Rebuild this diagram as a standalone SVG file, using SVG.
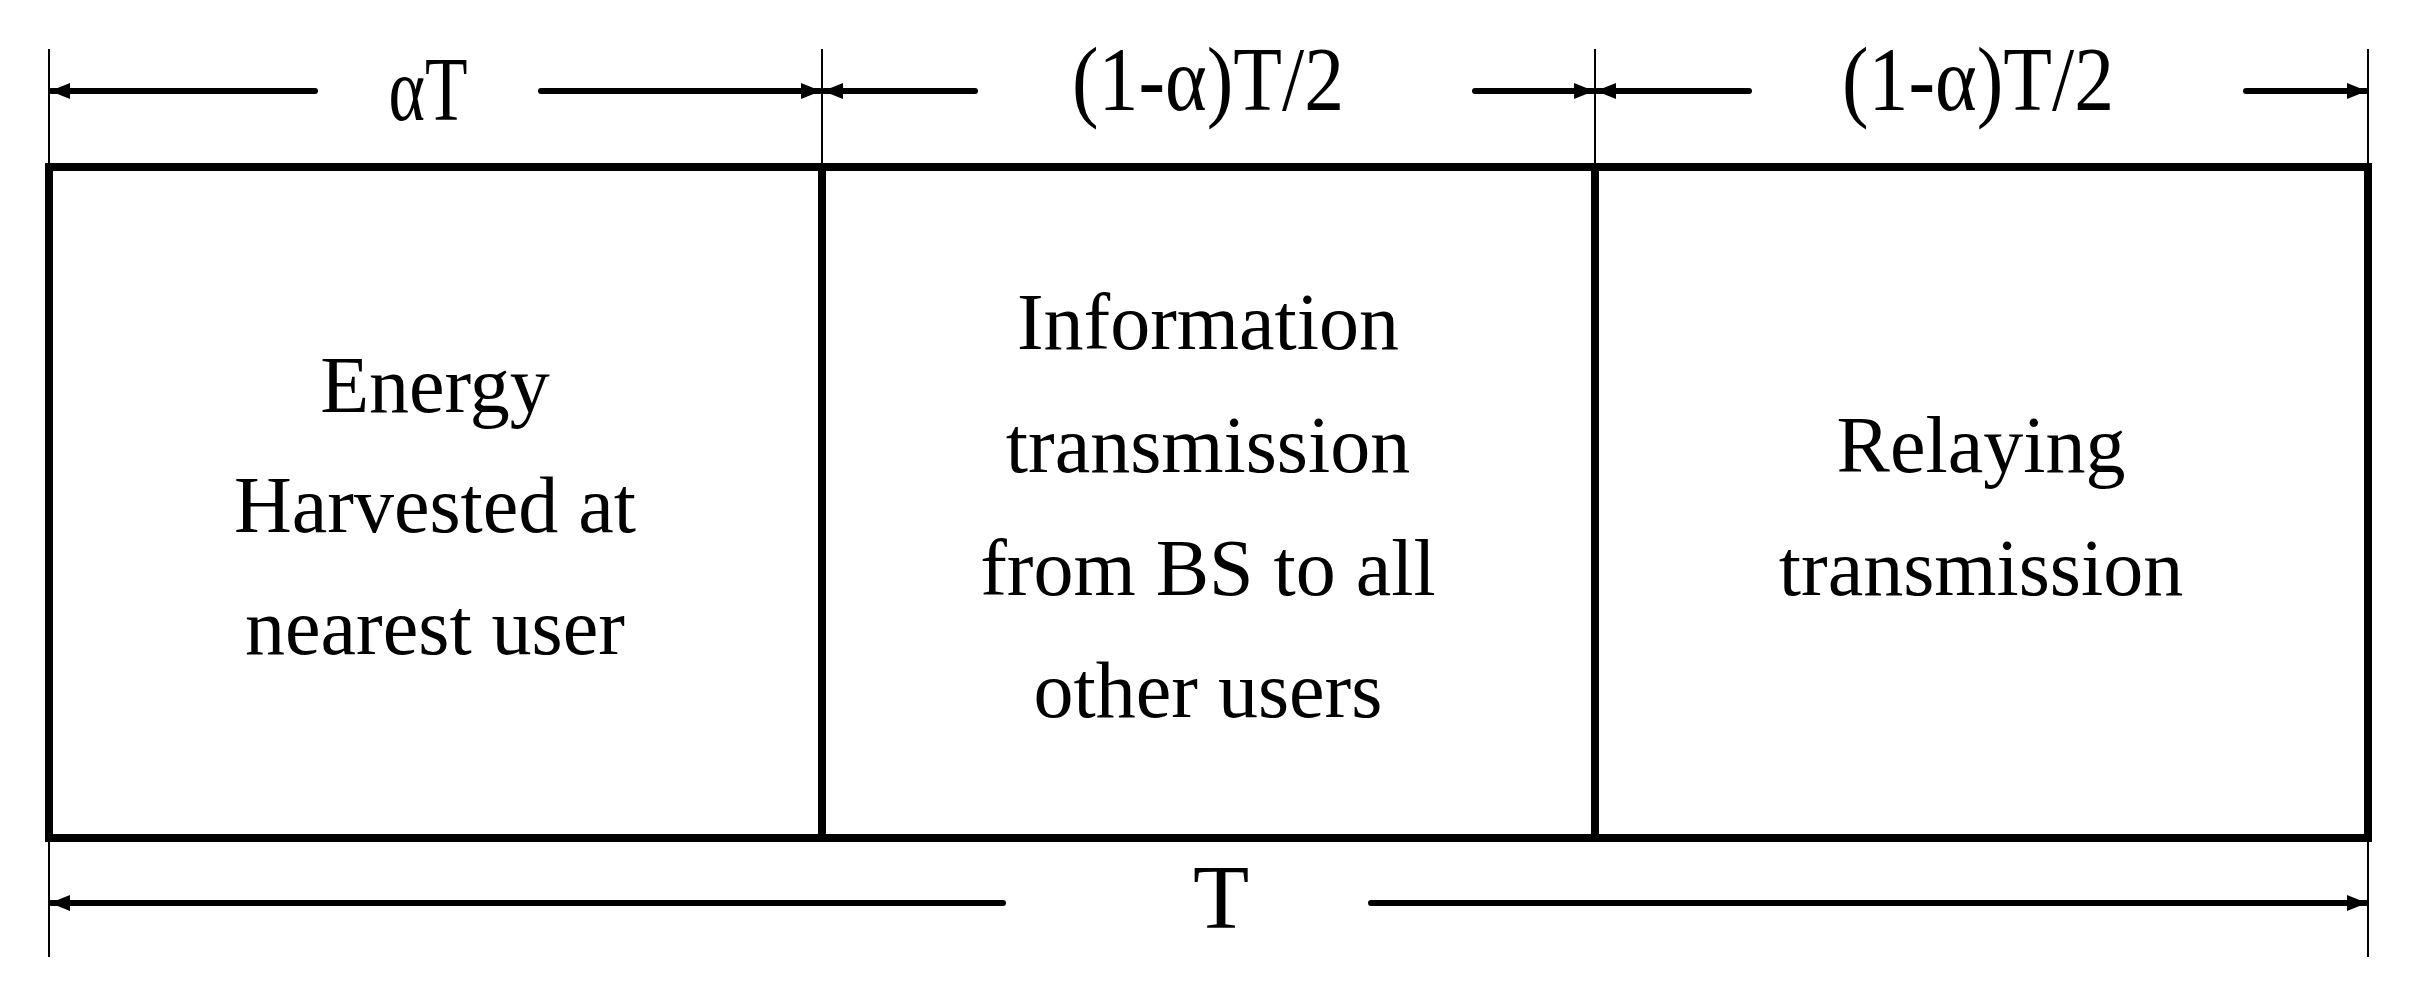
<svg xmlns="http://www.w3.org/2000/svg" width="2409" height="987" viewBox="0 0 2409 987">
<style>
text{font-family:"Liberation Serif","Times New Roman",serif;fill:#000;text-anchor:middle}
.b{font-size:80px}
.l{font-size:92px}
.box{fill:none;stroke:#000;stroke-width:8}
.tick{stroke:#000;stroke-width:2}
.ar{stroke:#000;stroke-width:6;stroke-linecap:round}
</style>
<defs>
<marker id="ah" viewBox="0 0 20 16" refX="19" refY="8" markerWidth="20" markerHeight="16" markerUnits="userSpaceOnUse" orient="auto-start-reverse">
<path d="M0,0 L20,8 L0,16 Z" fill="#000"/>
</marker>
</defs>
<rect width="2409" height="987" fill="#fff"/>
<g id="ticks">
<line class="tick" x1="49" y1="49" x2="49" y2="957"/>
<line class="tick" x1="822" y1="49" x2="822" y2="167"/>
<line class="tick" x1="1595" y1="49" x2="1595" y2="167"/>
<line class="tick" x1="2368" y1="49" x2="2368" y2="957"/>
</g>
<g id="slot1">
<rect class="box" x="49" y="167" width="773" height="671"/>
<text class="b" x="435" y="412">Energy</text>
<text class="b" x="435" y="532">Harvested at</text>
<text class="b" x="435" y="654">nearest user</text>
</g>
<g id="slot2">
<rect class="box" x="822" y="167" width="773" height="671"/>
<text class="b" x="1208" y="349">Information</text>
<text class="b" x="1208" y="472">transmission</text>
<text class="b" x="1208" y="595">from BS to all</text>
<text class="b" x="1208" y="717">other users</text>
</g>
<g id="slot3">
<rect class="box" x="1595" y="167" width="773" height="671"/>
<text class="b" x="1981" y="472">Relaying</text>
<text class="b" x="1981" y="595">transmission</text>
</g>
<g id="connectors">
<line class="ar" x1="315" y1="91" x2="51" y2="91" marker-end="url(#ah)"/>
<line class="ar" x1="541" y1="91" x2="820" y2="91" marker-end="url(#ah)"/>
<line class="ar" x1="975" y1="91" x2="824" y2="91" marker-end="url(#ah)"/>
<line class="ar" x1="1475" y1="91" x2="1593" y2="91" marker-end="url(#ah)"/>
<line class="ar" x1="1749" y1="91" x2="1597" y2="91" marker-end="url(#ah)"/>
<line class="ar" x1="2246" y1="91" x2="2366" y2="91" marker-end="url(#ah)"/>
<line class="ar" x1="1003" y1="903" x2="51" y2="903" marker-end="url(#ah)"/>
<line class="ar" x1="1371" y1="903" x2="2366" y2="903" marker-end="url(#ah)"/>
</g>
<g id="labels">
<text class="l" x="428" y="120" textLength="79" lengthAdjust="spacingAndGlyphs">αT</text>
<text class="l" x="1208" y="110" textLength="272" lengthAdjust="spacingAndGlyphs">(1-α)T/2</text>
<text class="l" x="1978" y="110" textLength="272" lengthAdjust="spacingAndGlyphs">(1-α)T/2</text>
<text class="l" x="1221" y="928">T</text>
</g>
</svg>
